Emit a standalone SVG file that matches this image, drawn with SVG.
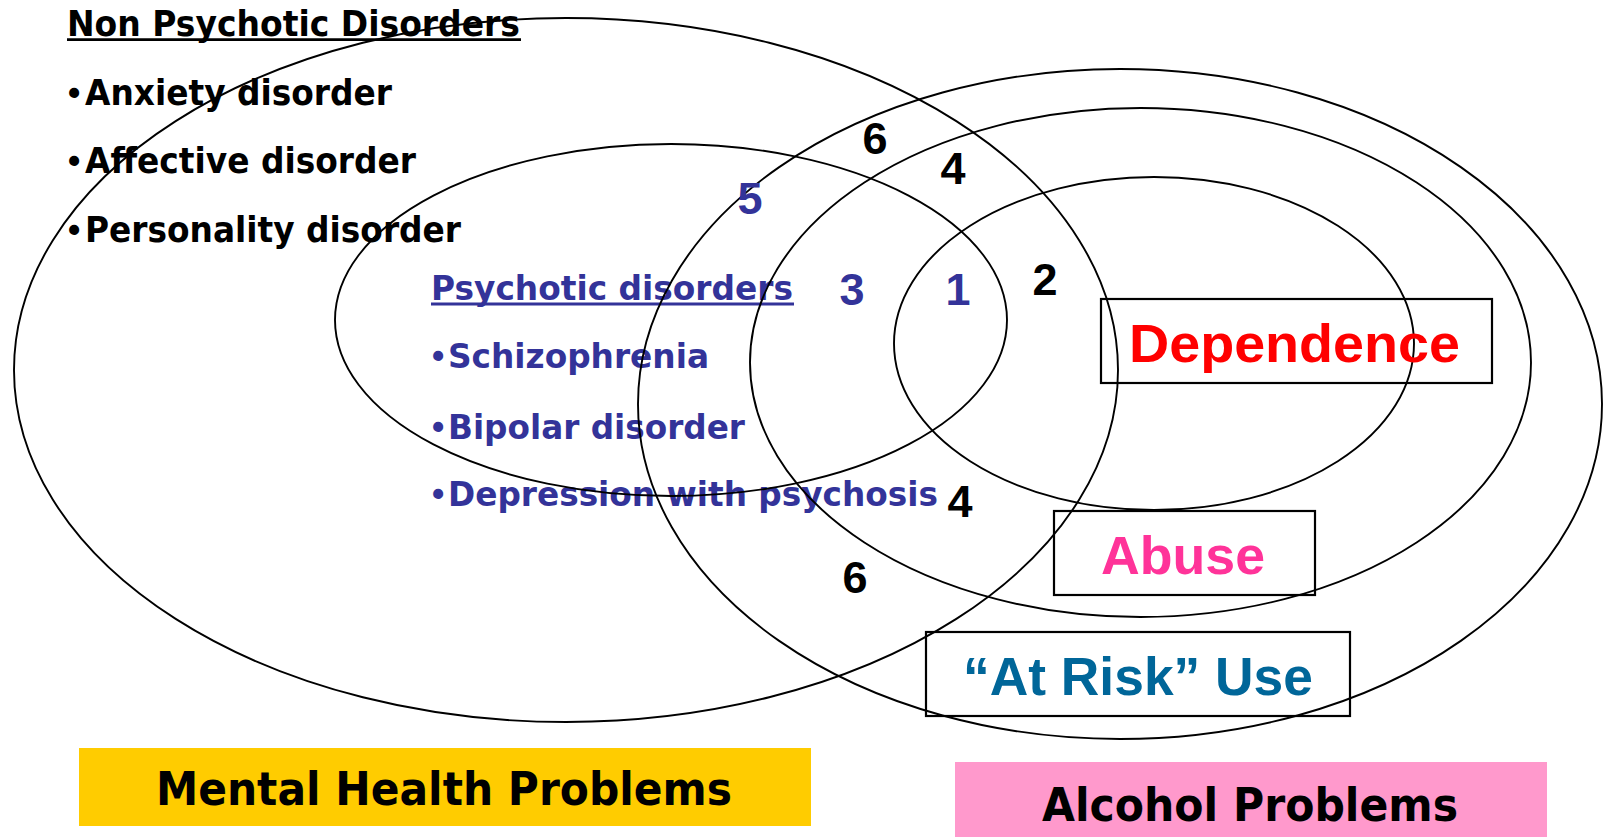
<svg xmlns="http://www.w3.org/2000/svg" width="1603" height="837" viewBox="0 0 1603 837">
<style>
.ring{fill:none;stroke:#000;stroke-width:1.9}
.box{fill:none;stroke:#000;stroke-width:2.2}
.tah{font-family:"DejaVu Sans","Liberation Sans",sans-serif;font-weight:bold}
.ari{font-family:"Liberation Sans",Arial,sans-serif;font-weight:bold}
.blk{fill:#000}
.blu{fill:#333399}
.num{font-size:45px;text-anchor:middle}
.bul{font-family:"Liberation Sans",Arial,sans-serif;font-weight:bold;font-size:35px}
.ul{stroke-width:2.8}
</style>
<rect x="0" y="0" width="1603" height="837" fill="#fff"/>

<g id="non-psychotic-list">
  <text class="tah blk" x="67" y="36" font-size="35" textLength="453" lengthAdjust="spacingAndGlyphs">Non Psychotic Disorders</text>
  <line class="ul" x1="67" y1="39.6" x2="521" y2="39.6" stroke="#000"/>
  <text class="bul blk" x="68" y="105">•</text>
  <text class="tah blk" x="85" y="105" font-size="35" textLength="307" lengthAdjust="spacingAndGlyphs">Anxiety disorder</text>
  <text class="bul blk" x="68" y="173">•</text>
  <text class="tah blk" x="85" y="173" font-size="35" textLength="331" lengthAdjust="spacingAndGlyphs">Affective disorder</text>
  <text class="bul blk" x="68" y="242">•</text>
  <text class="tah blk" x="85" y="242" font-size="35" textLength="376" lengthAdjust="spacingAndGlyphs">Personality disorder</text>
</g>

<g id="psychotic-list">
  <text class="tah blu" x="431" y="300" font-size="34" textLength="362" lengthAdjust="spacingAndGlyphs">Psychotic disorders</text>
  <line class="ul" x1="431" y1="304" x2="794" y2="304" stroke="#333399"/>
  <text class="bul blu" x="432" y="368">•</text>
  <text class="tah blu" x="448" y="368" font-size="34" textLength="261" lengthAdjust="spacingAndGlyphs">Schizophrenia</text>
  <text class="bul blu" x="432" y="439">•</text>
  <text class="tah blu" x="448" y="439" font-size="34" textLength="297" lengthAdjust="spacingAndGlyphs">Bipolar disorder</text>
  <text class="bul blu" x="432" y="506">•</text>
  <text class="tah blu" x="448" y="506" font-size="34" textLength="490" lengthAdjust="spacingAndGlyphs">Depression with psychosis</text>
</g>

<g id="mental-health-ellipse"><ellipse class="ring" cx="566" cy="370" rx="552" ry="352"/></g>
<g id="psychotic-ellipse"><ellipse class="ring" cx="671" cy="320" rx="336" ry="176"/></g>
<g id="at-risk-ellipse"><ellipse class="ring" cx="1120" cy="404" rx="482" ry="335"/></g>
<g id="abuse-ellipse"><ellipse class="ring" cx="1140.5" cy="362.5" rx="390.5" ry="254.5"/></g>
<g id="dependence-ellipse"><ellipse class="ring" cx="1154" cy="343.5" rx="260" ry="166.5"/></g>

<g id="region-numbers">
  <text class="ari blk num" x="875" y="154">6</text>
  <text class="ari blk num" x="953" y="184">4</text>
  <text class="ari blu num" x="750" y="214">5</text>
  <text class="ari blu num" x="852" y="305">3</text>
  <text class="ari blu num" x="958" y="305">1</text>
  <text class="ari blk num" x="1045" y="295">2</text>
  <text class="ari blk num" x="960" y="517">4</text>
  <text class="ari blk num" x="855" y="593">6</text>
</g>

<g id="dependence-label">
  <rect class="box" x="1101" y="299" width="391" height="84"/>
  <text class="ari" x="1129" y="362" font-size="54" fill="#FF0000" textLength="331" lengthAdjust="spacingAndGlyphs">Dependence</text>
</g>
<g id="abuse-label">
  <rect class="box" x="1054" y="511" width="261" height="84"/>
  <text class="ari" x="1101" y="574" font-size="54" fill="#FF3399" textLength="164" lengthAdjust="spacingAndGlyphs">Abuse</text>
</g>
<g id="at-risk-label">
  <rect class="box" x="926" y="632" width="424" height="84"/>
  <text class="ari" x="963" y="695" font-size="54" fill="#006699" textLength="350" lengthAdjust="spacingAndGlyphs">“At Risk” Use</text>
</g>

<g id="mental-health-title">
  <rect x="79" y="748" width="732" height="78" fill="#FFCC00"/>
  <text class="tah blk" x="156" y="805" font-size="46" textLength="576" lengthAdjust="spacingAndGlyphs">Mental Health Problems</text>
</g>
<g id="alcohol-title">
  <rect x="955" y="762" width="592" height="80" fill="#FF99CC"/>
  <text class="tah blk" x="1042" y="821" font-size="46" textLength="416" lengthAdjust="spacingAndGlyphs">Alcohol Problems</text>
</g>

<g id="connectors"></g>
</svg>
